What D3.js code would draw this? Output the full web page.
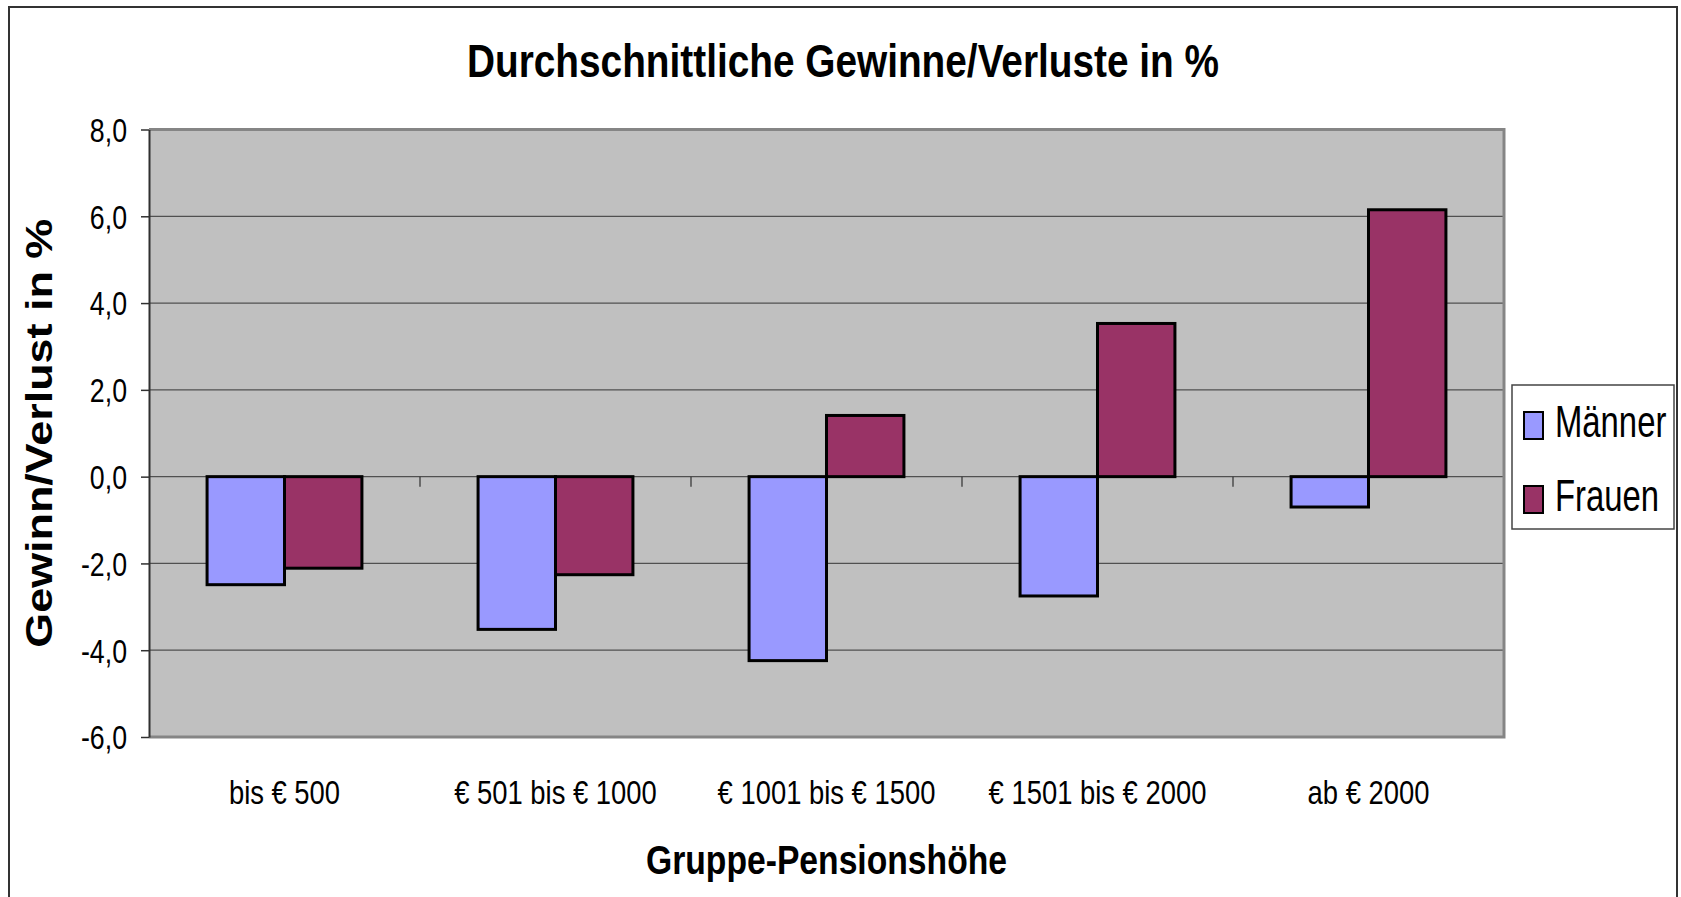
<!DOCTYPE html>
<html><head><meta charset="utf-8">
<script src="https://cdn.jsdelivr.net/npm/d3@7"></script>
<style>html,body{margin:0;padding:0;background:#fff;overflow:hidden}svg{display:block}</style>
</head><body><svg id="c" width="1681" height="897"></svg>
<script>
const categories = ["bis € 500", "€ 501 bis € 1000", "€ 1001 bis € 1500", "€ 1501 bis € 2000", "ab € 2000"];
const seriesNames = ["Männer", "Frauen"];
const maenner = [-2.49, -3.52, -4.24, -2.75, -0.70];
const frauen = [-2.11, -2.26, 1.41, 3.53, 6.15];
const yTicks = [8, 6, 4, 2, 0, -2, -4, -6];
const colors = ["#9999FF", "#993366"];
const titleText = "Durchschnittliche Gewinne/Verluste in %";
const yTitle = "Gewinn/Verlust in %";
const xTitle = "Gruppe-Pensionshöhe";

const FONT = "'Liberation Sans', Arial, Helvetica, sans-serif";
const svg = d3.select("#c");
const L = 149, R = 1504, T = 129.5, B = 737;

function squeeze(sel, k, fixed) {
  sel.each(function () {
    const w = this.getComputedTextLength();
    d3.select(this).attr("textLength", fixed != null ? fixed : w * k).attr("lengthAdjust", "spacingAndGlyphs");
  });
}

// outer frame
svg.append("rect").attr("x", 9).attr("y", 7).attr("width", 1668).attr("height", 900)
  .attr("fill", "#fff").attr("stroke", "#333").attr("stroke-width", 2);

const x0 = d3.scaleBand().domain(categories).range([L, R]).paddingInner(1.5 / 3.5).paddingOuter(0.75 / 3.5);
const x1 = d3.scaleBand().domain(seriesNames).range([0, x0.bandwidth()]);
const y = d3.scaleLinear().domain([-6, 8]).range([B, T]);

// plot background
svg.append("rect").attr("x", L).attr("y", T).attr("width", R - L).attr("height", B - T).attr("fill", "#C0C0C0");

// gridlines
svg.append("g").selectAll("line").data(yTicks.filter(v => v !== 8 && v !== -6)).join("line")
  .attr("x1", L).attr("x2", R).attr("y1", d => y(d)).attr("y2", d => y(d))
  .attr("stroke", "#505050").attr("stroke-width", 1.2);

// plot border (top, right, bottom) gray
svg.append("path").attr("d", `M${L},${T}H${R}V${B}H${L}`).attr("fill", "none")
  .attr("stroke", "#858585").attr("stroke-width", 3);

// y axis
const yAxis = svg.append("g").attr("transform", `translate(${L},0)`)
  .call(d3.axisLeft(y).tickValues(yTicks).tickSize(8).tickSizeOuter(0).tickPadding(14)
    .tickFormat(d => d3.format(".1f")(d).replace(".", ",").replace("−", "-")));
yAxis.select(".domain").attr("stroke", "#303030").attr("stroke-width", 2);
yAxis.selectAll(".tick line").attr("stroke", "#303030").attr("stroke-width", 1.5);
yAxis.selectAll(".tick text").attr("font-family", FONT).attr("font-size", 33).attr("fill", "#000")
  .attr("dy", "0.36em").call(squeeze, 0.81);

// category ticks on zero line
const boundaries = categories.slice(0, -1).map(c => x0(c) + x0.bandwidth() + x0.step() * x0.paddingInner() / 2);
svg.append("g").selectAll("line").data(boundaries).join("line")
  .attr("x1", d => d).attr("x2", d => d).attr("y1", y(0)).attr("y2", y(0) + 10)
  .attr("stroke", "#303030").attr("stroke-width", 1.2);

// bars
const rows = categories.map((c, i) => ({ c, vals: [maenner[i], frauen[i]] }));
svg.append("g").selectAll("g").data(rows).join("g")
  .attr("transform", d => `translate(${x0(d.c)},0)`)
  .selectAll("rect").data(d => d.vals.map((v, j) => ({ v, s: seriesNames[j], j }))).join("rect")
  .attr("x", d => x1(d.s)).attr("width", x1.bandwidth())
  .attr("y", d => y(Math.max(0, d.v))).attr("height", d => Math.abs(y(d.v) - y(0)))
  .attr("fill", d => colors[d.j]).attr("stroke", "#000").attr("stroke-width", 3);

// x labels
svg.append("g").selectAll("text").data(categories).join("text")
  .attr("x", d => x0(d) + x0.bandwidth() / 2).attr("y", 804)
  .attr("text-anchor", "middle").attr("font-family", FONT).attr("font-size", 33).attr("fill", "#000")
  .text(d => d).call(squeeze, 0.83);

// title
svg.append("text").attr("x", 843).attr("y", 77).attr("text-anchor", "middle")
  .attr("font-family", FONT).attr("font-weight", "bold").attr("font-size", 47).attr("fill", "#000")
  .text(titleText).call(squeeze, null, 752);

// x title
svg.append("text").attr("x", (L + R) / 2).attr("y", 874).attr("text-anchor", "middle")
  .attr("font-family", FONT).attr("font-weight", "bold").attr("font-size", 40).attr("fill", "#000")
  .text(xTitle).call(squeeze, null, 361);

// y title
svg.append("text").attr("transform", `translate(52,${(T + B) / 2}) rotate(-90)`).attr("text-anchor", "middle")
  .attr("font-family", FONT).attr("font-weight", "bold").attr("font-size", 37).attr("fill", "#000")
  .text(yTitle).call(squeeze, null, 429);

// legend
const lg = svg.append("g");
lg.append("rect").attr("x", 1512).attr("y", 385).attr("width", 162).attr("height", 144)
  .attr("fill", "#fff").attr("stroke", "#444").attr("stroke-width", 1.5);
const items = lg.selectAll("g").data(seriesNames).join("g")
  .attr("transform", (d, i) => `translate(1524,${412 + i * 74})`);
items.append("rect").attr("width", 19).attr("height", 27).attr("fill", (d, i) => colors[i])
  .attr("stroke", "#000").attr("stroke-width", 2);
items.append("text").attr("transform", "translate(31,25) scale(0.73,1)")
  .attr("font-family", FONT).attr("font-size", 45)
  .attr("fill", "#000").text(d => d);
</script></body></html>
